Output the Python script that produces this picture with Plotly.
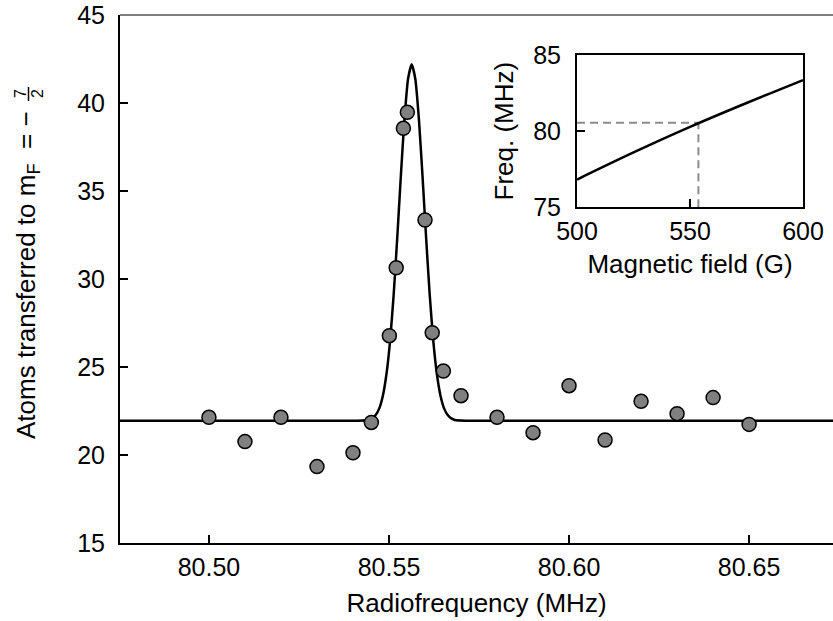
import plotly.graph_objects as go

# ---- main data: atoms transferred vs radiofrequency ----
rf_mhz = [80.50, 80.51, 80.52, 80.53, 80.54, 80.5451, 80.5501, 80.5520, 80.5540, 80.5551,
          80.5600, 80.5620, 80.5651, 80.5700, 80.58, 80.59, 80.60, 80.61, 80.62, 80.63,
          80.64, 80.65]
atoms = [22.14, 20.76, 22.14, 19.34, 20.13, 21.85, 26.78, 30.64, 38.56, 39.47,
         33.35, 26.95, 24.77, 23.37, 22.14, 21.27, 23.94, 20.85, 23.05, 22.35,
         23.26, 21.74]

# fitted curve
fit_x = [80.470, 80.5413, 80.5443, 80.5453, 80.5463, 80.5473, 80.5483, 80.5493, 80.5503,
         80.5513, 80.5523, 80.5533, 80.5543, 80.5553, 80.5563, 80.5573, 80.5583, 80.5593,
         80.5603, 80.5613, 80.5623, 80.5633, 80.5643, 80.5653, 80.5663, 80.5673, 80.5683,
         80.5713, 80.680]
fit_y = [21.95, 21.95, 21.99, 22.08, 22.27, 22.65, 23.37, 24.60, 26.49, 29.12, 32.37,
         35.88, 39.10, 41.38, 42.20, 41.38, 39.10, 35.88, 32.37, 29.12, 26.49, 24.60,
         23.37, 22.65, 22.27, 22.08, 21.99, 21.95, 21.95]

x_ticks = [80.50, 80.55, 80.60, 80.65]
y_ticks = [15, 20, 25, 30, 35, 40, 45]

# ---- inset data: transition frequency vs magnetic field ----
field_g = [500, 525, 550, 575, 600]
freq_mhz = [76.82, 78.60, 80.28, 81.85, 83.36]
res_field = 553.7
res_freq = 80.556
inset_x_ticks = [500, 550, 600]
inset_y_ticks = [75, 80, 85]

FONT = "Liberation Sans, Arial, Helvetica, sans-serif"
FS = 25
TFS = 26

fig = go.Figure()
fig.add_trace(go.Scatter(x=fit_x, y=fit_y, mode="lines",
                         line=dict(color="black", width=2.5, shape="spline", smoothing=0.5),
                         hoverinfo="skip", showlegend=False))
fig.add_trace(go.Scatter(x=rf_mhz, y=atoms, mode="markers",
                         marker=dict(size=14, color="#808080", line=dict(color="black", width=1.5)),
                         showlegend=False))

# inset traces
fig.add_trace(go.Scatter(x=[inset_x_ticks[0], res_field], y=[res_freq, res_freq],
                         xaxis="x2", yaxis="y2", mode="lines",
                         line=dict(color="#8c8c8c", width=2, dash="8px,5px"), showlegend=False))
fig.add_trace(go.Scatter(x=[res_field, res_field], y=[inset_y_ticks[0], res_freq],
                         xaxis="x2", yaxis="y2", mode="lines",
                         line=dict(color="#8c8c8c", width=2, dash="8px,5px"), showlegend=False))
fig.add_trace(go.Scatter(x=field_g, y=freq_mhz, xaxis="x2", yaxis="y2", mode="lines",
                         line=dict(color="black", width=2.5, shape="spline"), showlegend=False))

axis_common = dict(showline=True, linecolor="black", linewidth=2, ticks="inside",
                   ticklen=8, tickwidth=2, tickcolor="black", showgrid=False,
                   zeroline=False, automargin=False,
                   tickfont=dict(family=FONT, size=FS, color="black"))

fig.update_layout(
    width=833, height=621,
    margin=dict(l=120, r=0, t=15, b=78),
    paper_bgcolor="white", plot_bgcolor="white",
    font=dict(family=FONT, size=FS, color="black"),
    xaxis=dict(range=[80.4753, 80.6733], tickvals=x_ticks,
               ticktext=[f"{v:.2f}" for v in x_ticks], ticklabelstandoff=1,
               title=dict(text="Radiofrequency (MHz)", standoff=14,
                          font=dict(family=FONT, size=TFS)),
               **axis_common),
    yaxis=dict(range=[15, 45], tickvals=y_ticks, ticklabelstandoff=8, **axis_common),
    xaxis2=dict(domain=[0.641, 0.958], anchor="y2", range=[500, 600],
                tickvals=inset_x_ticks, mirror=True, ticklabelstandoff=1,
                title=dict(text="Magnetic field (G)", standoff=11,
                           font=dict(family=FONT, size=TFS)),
                **axis_common),
    yaxis2=dict(domain=[0.636, 0.924], anchor="x2", range=[75, 85],
                tickvals=inset_y_ticks, mirror=True, ticklabelstandoff=9,
                title=dict(text="Freq. (MHz)", standoff=12,
                           font=dict(family=FONT, size=TFS)),
                **axis_common),
    shapes=[dict(type="line", xref="paper", yref="paper", x0=0, x1=1, y0=1, y1=1,
                 line=dict(color="#555", width=1.5))],
)

# y-axis title with a stacked fraction (paper coords: plot area 713x528 px at (120,15))
def py(p):
    return (543 - p) / 528

def px(p):
    return (p - 120) / 713

fig.add_annotation(text="Atoms transferred to m<sub>F</sub>\u00a0\u00a0=\u00a0−",
                   textangle=-90, xref="paper", yref="paper", x=px(27), y=py(441),
                   xanchor="center", yanchor="bottom", showarrow=False,
                   font=dict(family=FONT, size=TFS))
fig.add_annotation(text="7", textangle=-90, xref="paper", yref="paper",
                   x=px(20), y=py(94), xanchor="center", yanchor="middle",
                   showarrow=False, font=dict(family=FONT, size=16))
fig.add_annotation(text="2", textangle=-90, xref="paper", yref="paper",
                   x=px(37), y=py(94), xanchor="center", yanchor="middle",
                   showarrow=False, font=dict(family=FONT, size=16))
fig.add_shape(type="line", xref="paper", yref="paper", x0=px(28.5), x1=px(28.5),
              y0=py(87), y1=py(101), line=dict(color="black", width=1.5))

fig.write_html("out.html")
